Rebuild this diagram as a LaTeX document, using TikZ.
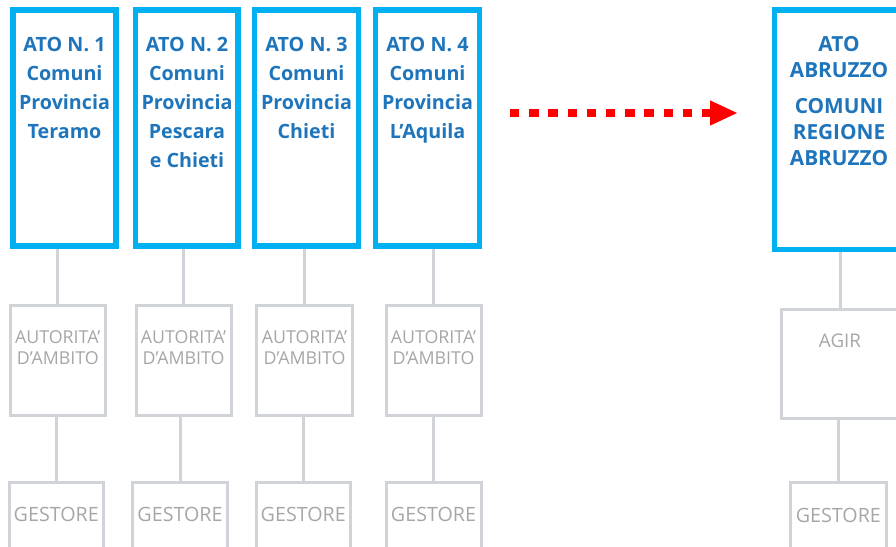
\documentclass[tikz,border=0pt]{standalone}
\usepackage{fontspec}
\setmainfont{Open Sans}
\usetikzlibrary{arrows.meta}

\definecolor{atoblue}{RGB}{0,176,240}
\definecolor{atotext}{RGB}{30,117,187}
\definecolor{linegray}{RGB}{208,212,216}
\definecolor{labelgray}{RGB}{166,166,166}
\definecolor{arrowred}{RGB}{255,0,0}

\tikzset{
  atobox/.style={draw=atoblue, line width=5.5pt, inner sep=0pt, minimum height=236pt},
  atolabel/.style={text=atotext, font=\fontsize{19.7}{29}\selectfont\bfseries,
    align=center, inner sep=0pt, anchor=north},
  graybox/.style={draw=linegray, line width=3pt, inner sep=0pt},
  graylabel/.style={text=labelgray, font=\fontsize{17.8}{21}\selectfont,
    align=center, inner sep=0pt, anchor=north},
  gestlabel/.style={text=labelgray, font=\fontsize{19.7}{24}\selectfont,
    inner sep=0pt, anchor=north},
  link/.style={draw=linegray, line width=3pt},
  redarrow/.style={draw=arrowred, line width=8pt, dash pattern=on 9.3pt off 9.9pt,
    -{Triangle[length=28pt, width=23pt, fill=arrowred]}}
}

\begin{document}
\begin{tikzpicture}[x=1pt, y=-1pt]
\useasboundingbox (0,0) rectangle (896,546);

% ATO boxes
\node[atobox, minimum width=103pt]   (ato1) at (64.5,128) {};
\node[atobox, minimum width=102.5pt] (ato2) at (186.75,128) {};
\node[atobox, minimum width=104pt]   (ato3) at (306.5,128) {};
\node[atobox, minimum width=104pt]   (ato4) at (427.5,128) {};
\node[atobox, minimum width=129.7pt, minimum height=239.5pt] (ato5) at (839.1,129.75) {};

\node[atolabel] (t1) at (64.5,36.7)  {ATO N. 1\\Comuni\\Provincia\\Teramo};
\node[atolabel] (t2) at (187,36.7)   {ATO N. 2\\Comuni\\Provincia\\Pescara\\e Chieti};
\node[atolabel] (t3) at (306.5,36.7) {ATO N. 3\\Comuni\\Provincia\\Chieti};
\node[atolabel] (t4) at (427.5,36.7) {ATO N. 4\\Comuni\\Provincia\\L’Aquila};
\node[atolabel, font=\fontsize{20.8}{26}\selectfont\bfseries] (t5) at (839,36.5)
  {ATO\\ABRUZZO\\[9.5pt]COMUNI\\REGIONE\\ABRUZZO};

% Authority boxes
\node[graybox, minimum width=95.5pt, minimum height=109.5pt] (aut1) at (57.75,360.25) {};
\node[graybox, minimum width=95pt,   minimum height=109.5pt] (aut2) at (183.5,360.25) {};
\node[graybox, minimum width=96pt,   minimum height=109.5pt] (aut3) at (304.5,360.25) {};
\node[graybox, minimum width=95pt,   minimum height=109.5pt] (aut4) at (433.5,360.25) {};
\node[graybox, minimum width=117.4pt, minimum height=109.4pt] (aut5) at (840,364) {};

\node[graylabel] (a1) at (57.75,330.7) {AUTORITA’\\D’AMBITO};
\node[graylabel] (a2) at (183.5,330.7) {AUTORITA’\\D’AMBITO};
\node[graylabel] (a3) at (304.5,330.7) {AUTORITA’\\D’AMBITO};
\node[graylabel] (a4) at (433.5,330.7) {AUTORITA’\\D’AMBITO};
\node[graylabel, font=\fontsize{18.8}{22}\selectfont] (a5) at (840,333.3) {AGIR};

% Operator boxes
\node[graybox, minimum width=94.5pt, minimum height=87.5pt] (ges1) at (56.25,526.25) {};
\node[graybox, minimum width=95pt,   minimum height=87.5pt] (ges2) at (180,526.25) {};
\node[graybox, minimum width=94.5pt, minimum height=87.5pt] (ges3) at (303.25,526.25) {};
\node[graybox, minimum width=95pt,   minimum height=87.5pt] (ges4) at (433.5,526.25) {};
\node[graybox, minimum width=95.3pt, minimum height=87.5pt] (ges5) at (838.35,526.45) {};

\foreach \i in {1,...,5}{
  \node[gestlabel] (g\i) at ([yshift=-26.5pt]ges\i.north) {GESTORE};
}

% Connectors
\foreach \i in {1,...,5}{
  \draw[link] (aut\i.north) -- (aut\i.north |- ato\i.south);
  \draw[link] (ges\i.north) -- (ges\i.north |- aut\i.south);
}

% Transition arrow
\coordinate (arrfrom) at (510,113);
\coordinate (arrto) at (738,113);
\draw[redarrow] (arrfrom) -- (arrto);
\end{tikzpicture}
\end{document}
